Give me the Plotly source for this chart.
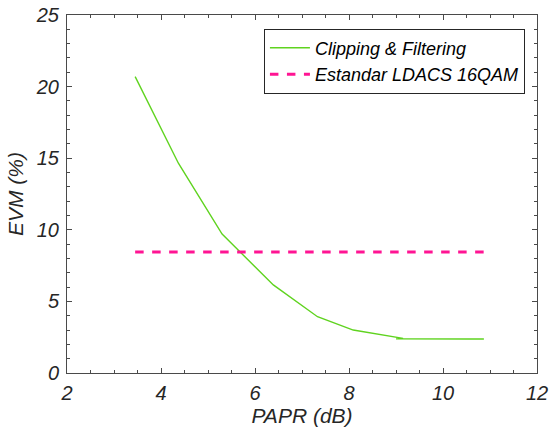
import plotly.graph_objects as go

papr = [3.45, 4.37, 5.30, 6.39, 7.33, 8.09, 9.15, 9.02, 10.55, 9.30, 10.50, 9.66, 10.53, 9.05, 10.58,
        9.70, 10.45, 9.10, 10.52, 9.40, 10.56, 9.00, 10.50, 9.60, 10.57, 9.20, 10.60, 10.87]
evm_cf = [20.7, 14.65, 9.7, 6.15, 3.93, 3.0, 2.42, 2.38, 2.37, 2.36, 2.37, 2.38, 2.36, 2.37, 2.38,
          2.37, 2.36, 2.38, 2.37, 2.36, 2.37, 2.38, 2.36, 2.37, 2.38, 2.37, 2.36, 2.37]
evm_std = [8.45] * len(papr)

fnt = "Liberation Sans, Arial, sans-serif"
axcol = "#4a4a4a"
txtcol = "#262626"

fig = go.Figure()
fig.add_trace(go.Scatter(x=papr, y=evm_cf, mode="lines", name="Clipping & Filtering",
                         line=dict(color="#5fd31f", width=1.4)))
fig.add_trace(go.Scatter(x=papr, y=evm_std, mode="lines", name="Estandar LDACS 16QAM",
                         line=dict(color="#ff1493", width=3, dash="8.5px,8.5px")))

common = dict(showgrid=False, zeroline=False, showline=True, linecolor=axcol, linewidth=1,
              mirror="allticks", ticks="inside", ticklen=5, tickcolor=axcol, automargin=False,
              tickfont=dict(family=fnt, size=20, color=txtcol, style="italic"))
fig.update_xaxes(range=[2, 12], dtick=2, tick0=2, ticklabelstandoff=2,
                 minor=dict(dtick=0.5, ticks="inside", ticklen=3, tickcolor=axcol),
                 title=dict(text="PAPR (dB)", font=dict(family=fnt, size=21, color=txtcol, style="italic"), standoff=4),
                 **common)
fig.update_yaxes(range=[0, 25], dtick=5, tick0=0, ticklabelstandoff=3,
                 minor=dict(dtick=1, ticks="inside", ticklen=3, tickcolor=axcol),
                 title=dict(text="EVM (%)", font=dict(family=fnt, size=21, color=txtcol, style="italic"), standoff=6),
                 **common)

fig.update_layout(width=550, height=436, margin=dict(l=67, r=13, t=15, b=63),
                  plot_bgcolor="white", paper_bgcolor="white",
                  legend=dict(x=0.419, y=0.962, xanchor="left", yanchor="top",
                              bgcolor="white", bordercolor="#262626", borderwidth=1,
                              font=dict(family=fnt, size=18, color="black", style="italic"),
                              tracegroupgap=0, itemwidth=40),
                  showlegend=True)

fig.write_html("out.html")
